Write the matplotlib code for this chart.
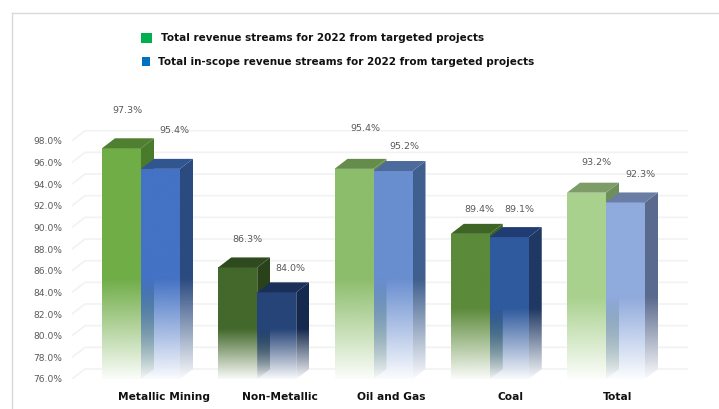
import numpy as np
import matplotlib
matplotlib.use("Agg")
import matplotlib.pyplot as plt
from matplotlib.colors import to_rgb
from matplotlib.patches import Polygon, Rectangle
from matplotlib.transforms import ScaledTranslation

categories = ["Metallic Mining", "Non-Metallic", "Oil and Gas", "Coal", "Total"]
total_revenue = [97.3, 86.3, 95.4, 89.4, 93.2]
in_scope_revenue = [95.4, 84.0, 95.2, 89.1, 92.3]
series_names = ["Total revenue streams for 2022 from targeted projects",
                "Total in-scope revenue streams for 2022 from targeted projects"]

W, H = 719, 409
fig = plt.figure(figsize=(W / 100, H / 100), dpi=100)
L, R, T, B = 72, 688, 130, 379
ax = fig.add_axes([L / W, 1 - B / H, (R - L) / W, (B - T) / H])
ppv = (379 - 140.7) / 22
cat_w = 116.25
ax.set_xlim((L - 141) / cat_w, (R - 141) / cat_w)
ax.set_ylim(76, 76 + (B - T) / ppv)
ax.patch.set_alpha(0)
for s in ax.spines.values():
    s.set_visible(False)

bw = 39 / cat_w
dx, dy = 13 / cat_w, 10 / ppv
x0, x1 = ax.get_xlim()

yticks = np.arange(76, 99, 2)
for v in yticks:
    ax.plot([x0, x0 + dx, x1], [v, v + dy, v + dy], color="#f2f2f2", lw=1.2, zorder=1,
            solid_joinstyle="miter")
ax.set_yticks(yticks)
ax.set_yticklabels([f"{v:.1f}%" for v in yticks], color="#595959", fontsize=6.6)
ax.tick_params(axis="y", length=0, pad=7)

ax.set_xticks(range(len(categories)))
ax.set_xticklabels(categories, fontsize=7.7, fontweight="bold", color="#111111")
ax.tick_params(axis="x", length=0, pad=9)
label_shift = [23, 23, 18, 21, 12]
for lab, sh in zip(ax.get_xticklabels(), label_shift):
    lab.set_transform(lab.get_transform() + ScaledTranslation(sh / 100, 0, fig.dpi_scale_trans))

fade_start = [85.2, 80.6, 85.2, 82.5, 83.5]
green_cols = [("#70ad47", "#4a7a2b", "#507f31"), ("#43682b", "#2a4219", "#2f4a1e"),
              ("#8cbd6b", "#668c4c", "#668c4c"), ("#5b8a3a", "#3c6324", "#3e6426"),
              ("#a9d18e", "#6e8f5a", "#7d9c68")]
blue_cols = [("#4472c4", "#2a4a80", "#30558f"), ("#264478", "#152a4e", "#1a3058"),
             ("#698ed0", "#3f5f8e", "#4d6a9c"), ("#2f5a9e", "#1f3864", "#203c72"),
             ("#8faadc", "#5a6a8e", "#6a7da5")]


def gradient(poly, color, ymin, ymax, fstart, z):
    ax.add_patch(Polygon(poly, closed=True, facecolor="white", edgecolor="none", zorder=2))
    n = 300
    ys = np.linspace(ymax, ymin, n)
    a = np.clip((ys - ymin) / (fstart - ymin), 0, 1)
    a = 0.03 + 0.97 * a
    img = np.ones((n, 2, 4))
    img[..., :3] = to_rgb(color)
    img[..., 3] = np.column_stack([a, a])
    xs = [p[0] for p in poly]
    im = ax.imshow(img, extent=[min(xs), max(xs), ymin, ymax], aspect="auto", zorder=z,
                   interpolation="bilinear")
    clip = Polygon(poly, closed=True, transform=ax.transData)
    im.set_clip_path(clip)


def bar3d(x, top, cols, fstart, z):
    front, side, topc = cols
    r = x + bw
    gradient([(r, 76), (r + dx, 76 + dy), (r + dx, top + dy), (r, top)], side, 76, top + dy, fstart, z)
    gradient([(x, 76), (r, 76), (r, top), (x, top)], front, 76, top, fstart, z + 0.1)
    ax.add_patch(Polygon([(x, top), (r, top), (r + dx, top + dy), (x + dx, top + dy)],
                         closed=True, facecolor=topc, edgecolor="none", zorder=z + 0.2))


for i in range(len(categories)):
    bar3d(i - bw, total_revenue[i], green_cols[i], fade_start[i], 3)
    bar3d(i, in_scope_revenue[i], blue_cols[i], fade_start[i], 4)

ax.set_xlim(x0, x1)
ax.set_ylim(76, 76 + (B - T) / ppv)

green_off = [(5.5, 38), (9.5, 28), (11.5, 40.5), (9.5, 24), (10, 30)]
blue_off = [(14, 38), (13.5, 24), (11.5, 25), (10.5, 27.5), (14.5, 27.5)]
for i in range(len(categories)):
    ax.annotate(f"{total_revenue[i]:.1f}%", (i - bw / 2, total_revenue[i]), xytext=green_off[i],
                textcoords="offset pixels", ha="center", va="center", fontsize=6.8,
                color="#595959", zorder=6)
    ax.annotate(f"{in_scope_revenue[i]:.1f}%", (i + bw / 2, in_scope_revenue[i]), xytext=blue_off[i],
                textcoords="offset pixels", ha="center", va="center", fontsize=6.8,
                color="#595959", zorder=6)


def px(x, y):
    return x / W, 1 - y / H


fig.add_artist(plt.Line2D([11.5 / W, 11.5 / W], [1 - 12.5 / H, 0], color="#d9d9d9", lw=1))
fig.add_artist(plt.Line2D([11.5 / W, 1], [1 - 12.5 / H, 1 - 12.5 / H], color="#d9d9d9", lw=1))

for (a, b, c, d), col in zip([(141, 33.5, 11, 9), (142, 57, 7.5, 8.5)], ["#00b050", "#0070c0"]):
    fx, fy = px(a, b + d)
    fig.add_artist(Rectangle((fx, fy), c / W, d / H, transform=fig.transFigure,
                             facecolor=col, edgecolor="none"))
for (a, b), name in zip([(161, 38), (158, 62)], series_names):
    fx, fy = px(a, b)
    fig.text(fx, fy, name, fontsize=7.45, fontweight="bold", color="#111111", va="center", ha="left")

fig.savefig("out.png", dpi=100, facecolor="white")
